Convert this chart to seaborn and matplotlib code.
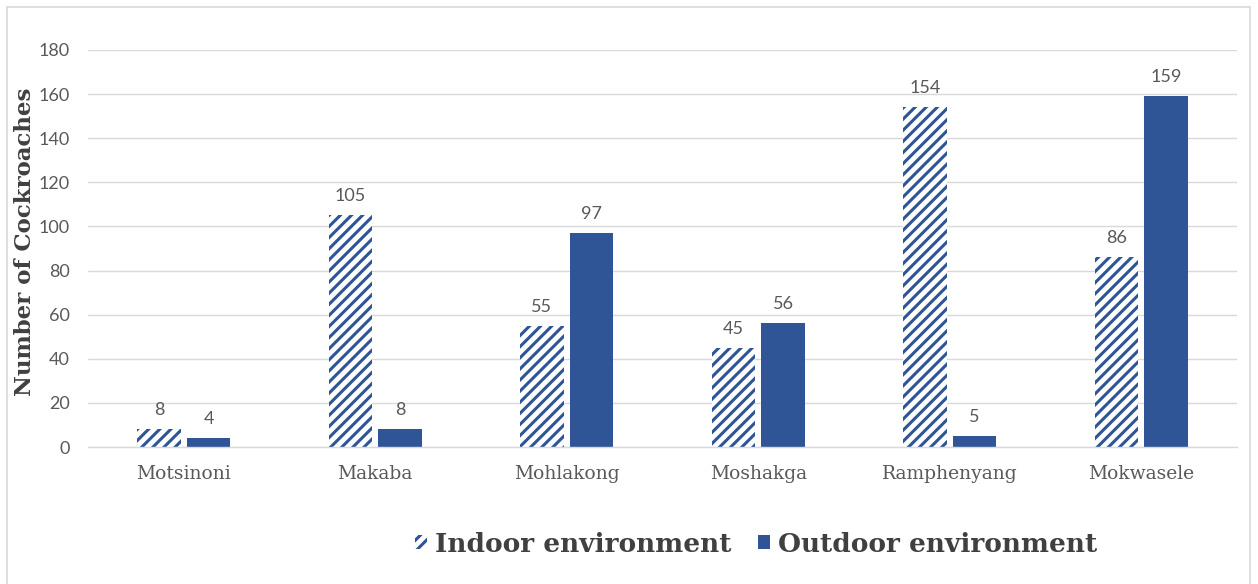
import matplotlib
matplotlib.use("Agg")
import matplotlib.pyplot as plt
import matplotlib.patches as mpatches
import pandas as pd
import seaborn as sns

villages = ["Motsinoni", "Makaba", "Mohlakong", "Moshakga", "Ramphenyang", "Mokwasele"]
indoor = [8, 105, 55, 45, 154, 86]
outdoor = [4, 8, 97, 56, 5, 159]
series = ["Indoor environment", "Outdoor environment"]
y_ticks = [0, 20, 40, 60, 80, 100, 120, 140, 160, 180]

BLUE = "#2F5597"
GRAY = "#595959"
GRID = "#D9D9D9"

sns.set_theme(style="white")
plt.rcParams["hatch.linewidth"] = 2.2

df = pd.DataFrame({
    "village": villages * 2,
    "env": [series[0]] * len(villages) + [series[1]] * len(villages),
    "count": indoor + outdoor,
})

fig = plt.figure(figsize=(12.58, 5.84), dpi=100)
ax = fig.add_axes([88 / 1258, 137 / 584, (1237 - 88) / 1258, 397 / 584])

sns.barplot(data=df, x="village", y="count", hue="env", order=villages,
            hue_order=series, palette=[BLUE, BLUE], width=0.52, gap=0.13,
            ax=ax, legend=False, saturation=1)

# indoor bars: white fill with diagonal blue stripes
for bar in ax.containers[0]:
    bar.set_facecolor("white")
    bar.set_edgecolor(BLUE)
    bar.set_hatch("///")
    bar.set_linewidth(0)
for bar in ax.containers[1]:
    bar.set_linewidth(0)

# value labels above bars
for cont in ax.containers:
    ax.bar_label(cont, padding=8, color=GRAY, fontsize=13, family="Lato")

ax.set_ylim(0, 180)
ax.set_yticks(y_ticks)
ax.set_yticklabels([str(t) for t in y_ticks], color=GRAY, fontsize=13, family="Lato")
ax.tick_params(axis="y", length=0, pad=13)
ax.tick_params(axis="x", length=0, pad=13)
ax.set_xticks(range(len(villages)))
ax.set_xticklabels(villages, color=GRAY, fontsize=13.5, family="DejaVu Serif")
ax.set_xlim(-0.5, len(villages) - 0.5)

# Excel-style category boundary ticks
ax.set_xticks([i - 0.5 for i in range(len(villages) + 1)], minor=True)
ax.tick_params(axis="x", which="minor", length=4, color=GRID, width=1, direction="out")

ax.yaxis.grid(True, color=GRID, linewidth=1)
ax.set_axisbelow(True)
for side in ["top", "right", "left"]:
    ax.spines[side].set_visible(False)
ax.spines["bottom"].set_color(GRID)
ax.spines["bottom"].set_linewidth(1)

ax.set_xlabel("")
ax.set_ylabel("Number of Cockroaches", fontsize=16.5, fontweight="bold",
              family="DejaVu Serif", color="#404040")
ax.yaxis.set_label_coords((25 - 88) / 1149, 0.516)
ax.yaxis.label.set_va("center")

# legend below the plot
handles = [
    mpatches.Patch(facecolor="white", edgecolor=BLUE, hatch="///", linewidth=0, label=series[0]),
    mpatches.Patch(facecolor=BLUE, edgecolor=BLUE, linewidth=0, label=series[1]),
]
fig.legend(handles=handles, loc="center", bbox_to_anchor=(756 / 1258, 40 / 584),
           ncol=2, frameon=False, handlelength=0.45, handleheight=0.45,
           handletextpad=0.3, columnspacing=1.0,
           prop={"family": "DejaVu Serif", "weight": "bold", "size": 19},
           labelcolor="#404040")

# light chart frame
fig.add_artist(mpatches.Rectangle((7 / 1258, -0.05), 1243 / 1258, 1.05 - 7 / 584,
                                  transform=fig.transFigure, fill=False,
                                  edgecolor="#D9D9D9", linewidth=1.2))

fig.savefig("out.png", dpi=100)
